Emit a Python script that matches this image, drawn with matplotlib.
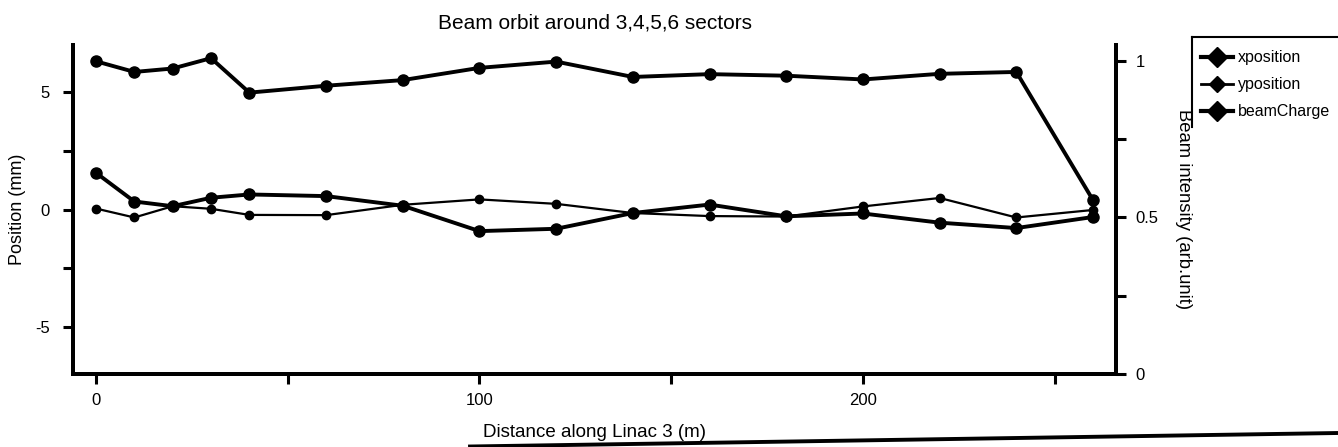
import matplotlib
matplotlib.use("Agg")
import matplotlib.pyplot as plt
from matplotlib.lines import Line2D


# distance along linac 3 (m)
distance = [0, 10, 20, 30, 40, 60, 80, 100, 120, 140, 160, 180, 200, 220, 240, 260]

# orbit readings (mm)
xposition = [1.56, 0.34, 0.14, 0.50, 0.64, 0.57, 0.16, -0.92, -0.82, -0.15,
             0.21, -0.29, -0.17, -0.56, -0.79, -0.32]
yposition = [0.04, -0.34, 0.14, 0.03, -0.23, -0.24, 0.20, 0.43, 0.24, -0.15,
             -0.28, -0.30, 0.13, 0.49, -0.34, -0.02]

# beam intensity (arb. unit)
beam_charge = [0.998, 0.964, 0.975, 1.008, 0.898, 0.920, 0.938, 0.977, 0.997,
               0.948, 0.957, 0.952, 0.940, 0.958, 0.964, 0.555]

TITLE = "Beam orbit around 3,4,5,6 sectors"
X_LABEL = "Distance along Linac 3 (m)"
Y_LABEL = "Position (mm)"
Y2_LABEL = "Beam intensity (arb.unit)"

plt.rcParams["font.family"] = ["Liberation Sans", "DejaVu Sans"]

W, H = 1338, 447
fig = plt.figure(figsize=(W / 100, H / 100), dpi=100)
ax = fig.add_axes([73 / W, 1 - 374 / H, (1116 - 73) / W, (374 - 45) / H])
ax2 = ax.twinx()

ax.plot(distance, xposition, color="black", lw=2.8, marker="o", ms=8,
        label="xposition", zorder=3)
ax.plot(distance, yposition, color="black", lw=1.6, marker="o", ms=6,
        label="yposition", zorder=3)
ax2.plot(distance, beam_charge, color="black", lw=2.8, marker="o", ms=8,
         label="beamCharge", zorder=3)

ax.set_xlim(-6, 266)
ax.set_ylim(-7, 7)
ax2.set_ylim(0, 1.05)

# spines: left, bottom, right only
for a in (ax, ax2):
    a.spines["top"].set_visible(False)
    for s in ("left", "bottom", "right"):
        a.spines[s].set_linewidth(2.8)

ax.set_xticks([0, 100, 200])
ax.set_xticks([50, 150, 250], minor=True)
ax.set_yticks([-5, -2.5, 0, 2.5, 5])
ax.set_yticklabels(["-5", "", "0", "", "5"])
ax.tick_params(axis="both", which="both", direction="out", length=7, width=2.2,
               labelsize=12, pad=7)
ax.tick_params(axis="x", which="minor", length=7, width=2.2)
ax.tick_params(axis="y", which="minor", left=False)
ax.tick_params(axis="y", pad=9.5)

ax2.set_yticks([0, 0.25, 0.5, 0.75, 1.0])
ax2.set_yticklabels(["0", "", "0.5", "", "1"])
ax2.tick_params(axis="y", direction="out", length=7, width=2.2, labelsize=12, pad=7)

ax.set_xlabel(X_LABEL, fontsize=13.5, labelpad=11)
ax.set_ylabel(Y_LABEL, fontsize=13, labelpad=7)
ax2.set_ylabel(Y2_LABEL, fontsize=13.3, rotation=270, labelpad=24)
ax.set_title(TITLE, fontsize=15, pad=12)

handles = [
    Line2D([], [], color="black", lw=3, marker="D", ms=10),
    Line2D([], [], color="black", lw=2, marker="D", ms=8),
    Line2D([], [], color="black", lw=3, marker="D", ms=10),
]
fig.legend(handles, ["xposition", "yposition", "beamCharge"],
           loc="upper left", bbox_to_anchor=(1195 / W, 1 - 44 / H),
           frameon=False, fontsize=11.5, handlelength=2.0, handletextpad=0.3,
           labelspacing=0.75, borderaxespad=0)

# partial frame round the legend
fig.add_artist(Line2D([1192 / W, 1.0], [1 - 37 / H, 1 - 37 / H],
                      color="black", lw=1.5, transform=fig.transFigure))
fig.add_artist(Line2D([1192 / W, 1192 / W], [1 - 37 / H, 1 - 127 / H],
                      color="black", lw=1.5, transform=fig.transFigure))
# page rule along the bottom edge
fig.add_artist(Line2D([470 / W, 1.0], [1 - 446.5 / H, 1 - 433 / H],
                      color="black", lw=2.8, transform=fig.transFigure))

fig.savefig("out.png", dpi=100)
